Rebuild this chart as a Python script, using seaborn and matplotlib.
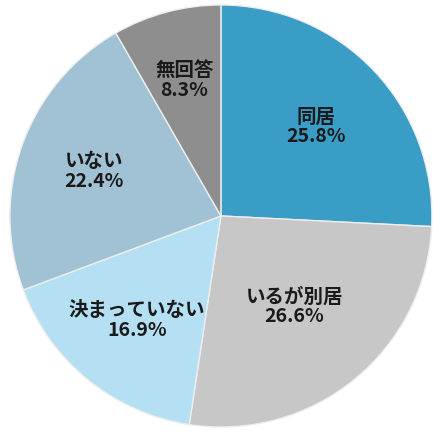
import numpy as np
import matplotlib
matplotlib.use("Agg")
import matplotlib.pyplot as plt
import seaborn as sns

categories = ["同居", "いるが別居", "決まっていない", "いない", "無回答"]
values = [25.8, 26.6, 16.9, 22.4, 8.3]
colors = ["#3a9dc6", "#c7c7c7", "#b5e0f3", "#a0c2d4", "#8e8e8e"]
label_dist = [0.62, 0.55, 0.63, 0.64, 0.67]

sns.set_theme(style="white")
plt.rcParams["font.family"] = ["Noto Sans CJK JP", "DejaVu Sans"]

fig = plt.figure(figsize=(4.37, 4.35), dpi=100)
ax = fig.add_axes([0, 0, 1, 1])
wedges, _ = ax.pie(values, colors=colors, startangle=90, counterclock=False,
                   radius=1.0, wedgeprops=dict(edgecolor="#eeeeee", linewidth=1.0))
for w, cat, v, d in zip(wedges, categories, values, label_dist):
    ang = np.deg2rad((w.theta1 + w.theta2) / 2)
    ax.text(d * np.cos(ang), d * np.sin(ang), f"{cat}\n{v:.1f}%",
            ha="center", va="center", fontsize=14, fontweight="bold",
            color="#1a1a1a", linespacing=1.05)
ax.set_aspect("equal")
ax.set_xlim(-1.047, 1.024)
ax.set_ylim(-1.033, 1.028)
ax.axis("off")
fig.savefig("out.png", dpi=100)
